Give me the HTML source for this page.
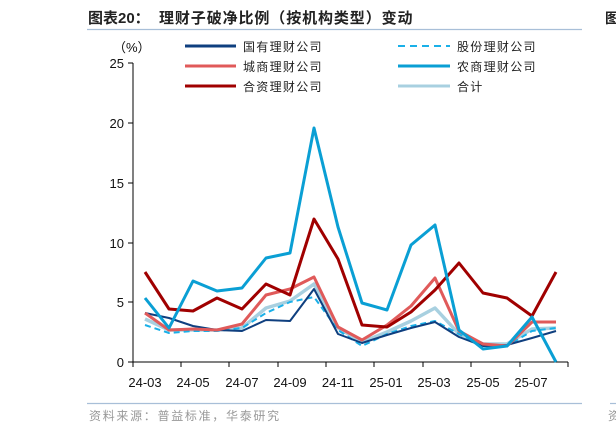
<!DOCTYPE html>
<html><head><meta charset="utf-8"><style>
body{margin:0;background:#fff;width:616px;height:434px;overflow:hidden}
svg{display:block}
</style></head><body>
<svg width="616" height="434" xmlns="http://www.w3.org/2000/svg" font-family="Liberation Sans, Noto Sans CJK SC, sans-serif">
<text x="88" y="23" font-size="15" font-weight="bold" fill="#222">图表20：</text>
<text x="159" y="23" font-size="15" font-weight="bold" fill="#222" letter-spacing="0.9">理财子破净比例（按机构类型）变动</text>
<text x="605" y="23" font-size="14" font-weight="bold" fill="#222">图</text>
<line x1="87" y1="29.5" x2="582" y2="29.5" stroke="#a8bfd8" stroke-width="1.2"/>
<line x1="87" y1="403.5" x2="582" y2="403.5" stroke="#a8bfd8" stroke-width="1.2"/>
<line x1="610" y1="403.5" x2="616" y2="403.5" stroke="#a8bfd8" stroke-width="1.2"/>
<text x="89" y="420" font-size="12" fill="#999" letter-spacing="1.7">资料来源：普益标准，华泰研究</text>
<text x="608" y="420" font-size="12" fill="#999">资</text>
<g font-size="13" fill="#111">
<text x="113" y="52">（%）</text>
<g text-anchor="end">
<text x="124" y="68">25</text><text x="124" y="128">20</text><text x="124" y="188">15</text>
<text x="124" y="248">10</text><text x="124" y="307">5</text><text x="124" y="367">0</text>
</g>
<g text-anchor="middle" font-size="13">
<text x="145" y="387">24-03</text><text x="193" y="387">24-05</text><text x="242" y="387">24-07</text>
<text x="290" y="387">24-09</text><text x="338" y="387">24-11</text><text x="386" y="387">25-01</text>
<text x="434" y="387">25-03</text><text x="483" y="387">25-05</text><text x="531" y="387">25-07</text>
</g>
</g>
<g stroke="#000" stroke-width="1">
<line x1="133" y1="63" x2="133" y2="362"/>
<line x1="133" y1="362" x2="568" y2="362"/>
<line x1="128" y1="63" x2="133" y2="63"/><line x1="128" y1="123" x2="133" y2="123"/>
<line x1="128" y1="183" x2="133" y2="183"/><line x1="128" y1="243" x2="133" y2="243"/>
<line x1="128" y1="302" x2="133" y2="302"/><line x1="128" y1="362" x2="133" y2="362"/>
<line x1="133" y1="362" x2="133" y2="367"/><line x1="181" y1="362" x2="181" y2="367"/>
<line x1="229" y1="362" x2="229" y2="367"/><line x1="278" y1="362" x2="278" y2="367"/>
<line x1="326" y1="362" x2="326" y2="367"/><line x1="374" y1="362" x2="374" y2="367"/>
<line x1="423" y1="362" x2="423" y2="367"/><line x1="471" y1="362" x2="471" y2="367"/>
<line x1="520" y1="362" x2="520" y2="367"/><line x1="568" y1="362" x2="568" y2="367"/>
</g>
<g stroke-width="3">
<line x1="185" y1="46" x2="236" y2="46" stroke="#0f3f7f"/>
<line x1="185" y1="66" x2="236" y2="66" stroke="#e05a5a"/>
<line x1="185" y1="86" x2="236" y2="86" stroke="#a00000"/>
<line x1="398" y1="46" x2="450" y2="46" stroke="#1ab0e8" stroke-dasharray="7,5" stroke-width="2"/>
<line x1="398" y1="66" x2="450" y2="66" stroke="#0a9fd4"/>
<line x1="398" y1="86" x2="450" y2="86" stroke="#a8d0e0"/>
</g>
<g font-size="12" fill="#222" letter-spacing="1.3">
<text x="243" y="51">国有理财公司</text><text x="243" y="71">城商理财公司</text><text x="243" y="91">合资理财公司</text>
<text x="457" y="51">股份理财公司</text><text x="457" y="71">农商理财公司</text><text x="457" y="91">合计</text>
</g>
<g fill="none" stroke-linejoin="round">
<polyline stroke="#a8d0e0" stroke-width="3.5" points="145,319 169,330 193,330 217,330 242,328 266,308 290,301 314,284 338,328 362,342 387,332 411,321 435,308 459,334 483,344 507,344 532,329 556,328"/>
<polyline stroke="#1ab0e8" stroke-width="2" stroke-dasharray="6,4" points="145,325 169,333 193,331 217,331 242,328 266,313 290,302 314,297 338,330 362,346 387,334 411,326 435,321 459,334 483,346 507,346 532,331 556,328"/>
<polyline stroke="#0f3f7f" stroke-width="2" points="145,313 169,318 193,326 217,330 242,331 266,320 290,321 314,289 338,334 362,343 387,335 411,328 435,322 459,337 483,346 507,345 532,338 556,331"/>
<polyline stroke="#e05a5a" stroke-width="3" points="145,313 169,330 193,329 217,330 242,324 266,295 290,289 314,277 338,327 362,340 387,325 411,306 435,278 459,331 483,344 507,346 532,322 556,322"/>
<polyline stroke="#a00000" stroke-width="3" points="145,272 169,309 193,311 217,298 242,309 266,284 290,295 314,219 338,259 362,325 387,327 411,312 435,290 459,263 483,293 507,298 532,316 556,272"/>
<polyline stroke="#0a9fd4" stroke-width="3" points="145,298 169,328 193,281 217,291 242,288 266,258 290,253 314,128 338,227 362,303 387,310 411,245 435,225 459,330 483,349 507,346 532,317 556,362"/>
</g>
</svg>
</body></html>
